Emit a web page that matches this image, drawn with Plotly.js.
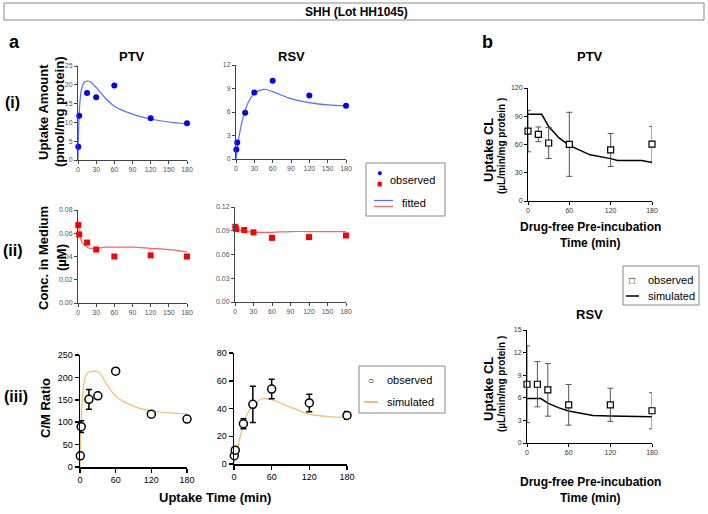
<!DOCTYPE html>
<html>
<head>
<meta charset="utf-8">
<script src="https://cdn.plot.ly/plotly-3.0.1.min.js"></script>
<style>
  body { margin: 0; background: #fff; }
  #chart { width: 708px; height: 514px; }
</style>
</head>
<body>
<div id="chart"></div>
<script>
// ---- panel a: uptake time course (min) ----
const uptakeTimes = [0.5, 2, 15, 30, 60, 120, 180];
const fitTimes = [0, 1, 3, 6, 10, 15, 20, 30, 45, 60, 90, 120, 150, 180];

// (i) uptake amount, pmol/mg protein
const ptvAmountObs = [3.5, 11.8, 17.8, 16.7, 19.8, 11.1, 9.8];
const ptvAmountFit = [0, 8, 15, 19, 20.6, 21, 20.8, 19.3, 16.5, 14.3, 12.2, 10.9, 10.1, 9.6];
const rsvAmountObs = [1.2, 2.1, 5.9, 8.5, 10.0, 8.1, 6.8];
const rsvAmountFit = [0, 0.6, 1.8, 3.3, 4.8, 6.2, 7.2, 8.4, 8.9, 8.6, 7.7, 7.2, 6.9, 6.8];

// (ii) conc. in medium, uM
const ptvMediumObs = [0.067, 0.059, 0.052, 0.046, 0.040, 0.041, 0.040];
const ptvMediumFit = [0.070, 0.066, 0.059, 0.053, 0.050, 0.048, 0.047, 0.047, 0.048, 0.048, 0.048, 0.047, 0.046, 0.044];
const rsvMediumObs = [0.095, 0.092, 0.091, 0.088, 0.081, 0.082, 0.084];
const rsvMediumFit = [0.096, 0.095, 0.093, 0.091, 0.090, 0.089, 0.089, 0.088, 0.088, 0.088, 0.089, 0.089, 0.089, 0.089];

// (iii) C/M ratio
const ptvRatioObs = [25, 90, 151, 159, 214, 118, 107];
const ptvRatioErr = [0, 13, 22, 0, 6, 5, 5];
const ptvRatioSim = [0, 60, 130, 180, 205, 212, 213, 213, 185, 158, 136, 125, 121, 119];
const rsvRatioObs = [6, 10, 29, 43, 54, 44, 35];
const rsvRatioErr = [0, 0, 3.6, 13, 7, 6.3, 2.8];
const rsvRatioSim = [0, 2, 6, 12, 20, 29, 35, 42, 47, 46.3, 41, 36, 34.2, 33.7];

// ---- panel b: uptake CL after drug-free pre-incubation ----
const preincTimes = [0, 15, 30, 60, 120, 180];
const ptvClObs = [74.3, 70.8, 61.6, 60.2, 54.2, 60.5];
const ptvClErr = [22, 7.8, 16.5, 34, 17.5, 18.8];
const ptvSimTimes = [0, 20, 30, 45, 60, 90, 120, 130, 165, 180];
const ptvClSim = [92, 92, 79, 67, 59, 49, 45, 43, 43, 41];
const rsvClObs = [7.8, 7.8, 7.06, 5.07, 5.07, 4.28];
const rsvClErr = [5.1, 3, 3.5, 2.7, 2.2, 2.4];
const rsvSimTimes = [0, 20, 30, 45, 60, 75, 95, 120, 180];
const rsvClSim = [5.9, 5.9, 5.3, 4.7, 4.25, 3.95, 3.65, 3.6, 3.5];

const W = 708, H = 514;
const FONT = 'Liberation Sans, Arial, sans-serif';
const px = x => x / W;
const py = y => 1 - y / H;

function axis(opts) {
  return Object.assign({
    showgrid: false, zeroline: false, showline: true,
    linecolor: '#444', linewidth: 1,
    ticks: 'outside', ticklen: 3, tickwidth: 1, tickcolor: '#444',
    tickfont: { size: 7, color: '#555', family: FONT },
    fixedrange: true
  }, opts);
}
function boldAxis(opts) {
  return axis(Object.assign({
    linecolor: '#000', linewidth: 1.5, tickcolor: '#000', tickwidth: 1.5, ticklen: 4,
    tickfont: { size: 9, color: '#000', family: FONT }
  }, opts));
}

const BLUE = '#0000ff', RED = '#ff0000', BLUE_L = '#5a6cff', RED_L = '#ff6060', ORANGE = '#f7bd6a';

function dots(xa, ya, x, y, color, symbol) {
  return { x, y, xaxis: xa, yaxis: ya, type: 'scatter', mode: 'markers', cliponaxis: false,
    marker: { color, symbol, size: 6 }, showlegend: false, hoverinfo: 'skip' };
}
function curve(xa, ya, x, y, color, shape, w) {
  return { x, y, xaxis: xa, yaxis: ya, type: 'scatter', mode: 'lines', cliponaxis: false,
    line: { color, width: w || 1.2, shape: shape || 'spline' }, showlegend: false, hoverinfo: 'skip' };
}
function openPts(xa, ya, x, y, err, symbol, size, ecol, ew) {
  return { x, y, xaxis: xa, yaxis: ya, type: 'scatter', mode: 'markers', cliponaxis: false,
    marker: { symbol, size, color: '#fff', line: { color: '#000', width: symbol === 'circle' ? 1.5 : 1.2 } },
    error_y: { type: 'data', array: err, visible: true, color: ecol, thickness: ew, width: 3 },
    showlegend: false, hoverinfo: 'skip' };
}

const data = [
  curve('x', 'y', fitTimes, ptvAmountFit, BLUE_L),
  dots('x', 'y', uptakeTimes, ptvAmountObs, BLUE, 'circle'),
  curve('x2', 'y2', fitTimes, rsvAmountFit, BLUE_L),
  dots('x2', 'y2', uptakeTimes, rsvAmountObs, BLUE, 'circle'),
  curve('x3', 'y3', fitTimes, ptvMediumFit, RED_L),
  dots('x3', 'y3', uptakeTimes, ptvMediumObs, RED, 'square'),
  curve('x4', 'y4', fitTimes, rsvMediumFit, RED_L),
  dots('x4', 'y4', uptakeTimes, rsvMediumObs, RED, 'square'),
  curve('x5', 'y5', fitTimes, ptvRatioSim, ORANGE),
  openPts('x5', 'y5', uptakeTimes, ptvRatioObs, ptvRatioErr, 'circle', 8, '#000', 1.5),
  curve('x6', 'y6', fitTimes, rsvRatioSim, ORANGE),
  openPts('x6', 'y6', uptakeTimes, rsvRatioObs, rsvRatioErr, 'circle', 8, '#000', 1.5),
  curve('x7', 'y7', ptvSimTimes, ptvClSim, '#000', 'linear', 1.5),
  openPts('x7', 'y7', preincTimes, ptvClObs, ptvClErr, 'square', 6, '#555', 1),
  curve('x8', 'y8', rsvSimTimes, rsvClSim, '#000', 'linear', 1.5),
  openPts('x8', 'y8', preincTimes, rsvClObs, rsvClErr, 'square', 6, '#555', 1)
];

function dom(x0, x1, y0, y1) { return { x: [px(x0), px(x1)], y: [py(y1), py(y0)] }; }
const d1 = dom(78, 187, 66, 160), d2 = dom(236, 346, 65, 159);
const d3 = dom(78, 187, 210, 303), d4 = dom(235, 346, 207, 302);
const d5 = dom(80, 187, 355, 467), d6 = dom(234, 347, 353, 464);
const d7 = dom(528, 652, 88, 201), d8 = dom(527, 652, 330, 443);

const bAxisFont = { size: 7, color: '#333', family: FONT };

const layout = {
  width: W, height: H,
  margin: { l: 0, r: 0, t: 0, b: 0 },
  paper_bgcolor: '#fff', plot_bgcolor: '#fff',
  showlegend: false,
  font: { family: FONT },
  xaxis: axis({ domain: d1.x, anchor: 'y', range: [0, 180], dtick: 30 }),
  yaxis: axis({ domain: d1.y, anchor: 'x', range: [0, 25], dtick: 5 }),
  xaxis2: axis({ domain: d2.x, anchor: 'y2', range: [0, 180], dtick: 30 }),
  yaxis2: axis({ domain: d2.y, anchor: 'x2', range: [0, 12], dtick: 3 }),
  xaxis3: axis({ domain: d3.x, anchor: 'y3', range: [0, 180], dtick: 30 }),
  yaxis3: axis({ domain: d3.y, anchor: 'x3', range: [0, 0.08], dtick: 0.02, tickformat: '.2f' }),
  xaxis4: axis({ domain: d4.x, anchor: 'y4', range: [0, 180], dtick: 30 }),
  yaxis4: axis({ domain: d4.y, anchor: 'x4', range: [0, 0.12], dtick: 0.03, tickformat: '.2f' }),
  xaxis5: boldAxis({ domain: d5.x, anchor: 'y5', range: [0, 180], dtick: 60 }),
  yaxis5: boldAxis({ domain: d5.y, anchor: 'x5', range: [0, 250], dtick: 50 }),
  xaxis6: boldAxis({ domain: d6.x, anchor: 'y6', range: [0, 180], dtick: 60 }),
  yaxis6: boldAxis({ domain: d6.y, anchor: 'x6', range: [0, 80], dtick: 20 }),
  xaxis7: axis({ domain: d7.x, anchor: 'y7', range: [0, 180], dtick: 60, linecolor: '#000', tickcolor: '#000', tickfont: bAxisFont }),
  yaxis7: axis({ domain: d7.y, anchor: 'x7', range: [0, 120], dtick: 30, linecolor: '#000', tickcolor: '#000', tickfont: bAxisFont }),
  xaxis8: axis({ domain: d8.x, anchor: 'y8', range: [0, 180], dtick: 60, linecolor: '#000', tickcolor: '#000', tickfont: bAxisFont }),
  yaxis8: axis({ domain: d8.y, anchor: 'x8', range: [0, 15], dtick: 3, linecolor: '#000', tickcolor: '#000', tickfont: bAxisFont }),
  shapes: [],
  annotations: []
};

function text(x, y, t, size, opts) {
  layout.annotations.push(Object.assign({
    xref: 'paper', yref: 'paper', x: px(x), y: py(y), text: t, showarrow: false,
    xanchor: 'center', yanchor: 'middle',
    font: { size, color: '#000', family: FONT }
  }, opts || {}));
}
function rect(x0, y0, x1, y1, color) {
  layout.shapes.push({ type: 'rect', xref: 'paper', yref: 'paper',
    x0: px(x0), x1: px(x1), y0: py(y1), y1: py(y0), line: { color: color || '#888', width: 1 } });
}
function hline(x0, x1, y, color, w) {
  layout.shapes.push({ type: 'line', xref: 'paper', yref: 'paper',
    x0: px(x0), x1: px(x1), y0: py(y), y1: py(y), line: { color, width: w } });
}

// banner
rect(4, 3, 704, 20, '#888');
text(356, 12, '<b>SHH (Lot HH1045)</b>', 12);

// panel letters and titles
text(14, 42, '<b>a</b>', 18);
text(487, 42, '<b>b</b>', 18);
text(132, 56, '<b>PTV</b>', 13);
text(291, 56, '<b>RSV</b>', 13);
text(590, 56, '<b>PTV</b>', 13);
text(589, 314, '<b>RSV</b>', 13);

// row labels
text(12, 103, '<b>(i)</b>', 16);
text(13, 250, '<b>(ii)</b>', 16);
text(16, 396, '<b>(iii)</b>', 16);

// y-axis titles
text(43, 112, '<b>Uptake Amount</b>', 13, { textangle: -90 });
text(59, 112, '<b>(pmol/mg protein)</b>', 13, { textangle: -90 });
text(43, 258, '<b>Conc. in Medium</b>', 13, { textangle: -90 });
text(61, 258, '<b>(µM)</b>', 13, { textangle: -90 });
text(45, 408, '<b>C/M Ratio</b>', 13, { textangle: -90 });
text(488, 150, '<b>Uptake CL</b>', 13, { textangle: -90 });
text(501, 146, '<b>(µL/min/mg protein )</b>', 10, { textangle: -90 });
text(488, 389, '<b>Uptake CL</b>', 13, { textangle: -90 });
text(501, 384, '<b>(µL/min/mg protein )</b>', 10, { textangle: -90 });

// x-axis titles
text(215, 497, '<b>Uptake Time (min)</b>', 13);
text(590, 227, '<b>Drug-free Pre-incubation</b>', 12);
text(590, 243, '<b>Time (min)</b>', 12);
text(590, 482, '<b>Drug-free Pre-incubation</b>', 12);
text(590, 498, '<b>Time (min)</b>', 12);

// legend (i)/(ii)
rect(366, 163, 445, 216, '#888');
text(379, 173, '●', 9, { font: { size: 9, color: BLUE, family: FONT } });
text(379, 184, '■', 9, { font: { size: 9, color: RED, family: FONT } });
text(388, 180, 'observed', 11, { xanchor: 'left' });
hline(374, 393, 200.5, BLUE_L, 1.2);
hline(374, 393, 206.5, RED_L, 1.2);
text(400, 203, 'fitted', 11, { xanchor: 'left' });

// legend (iii)
rect(359, 366, 445, 413, '#888');
text(371, 380, '○', 10);
text(385, 380, 'observed', 11, { xanchor: 'left' });
hline(364, 378, 402, ORANGE, 2);
text(385, 402, 'simulated', 11, { xanchor: 'left' });

// legend b
rect(623, 266, 699, 305, '#888');
text(632, 280, '□', 10);
text(646, 280, 'observed', 11, { xanchor: 'left' });
hline(626, 639, 296, '#000', 1.5);
text(646, 296, 'simulated', 11, { xanchor: 'left' });

Plotly.newPlot('chart', data, layout, { staticPlot: true });
</script>
</body>
</html>
